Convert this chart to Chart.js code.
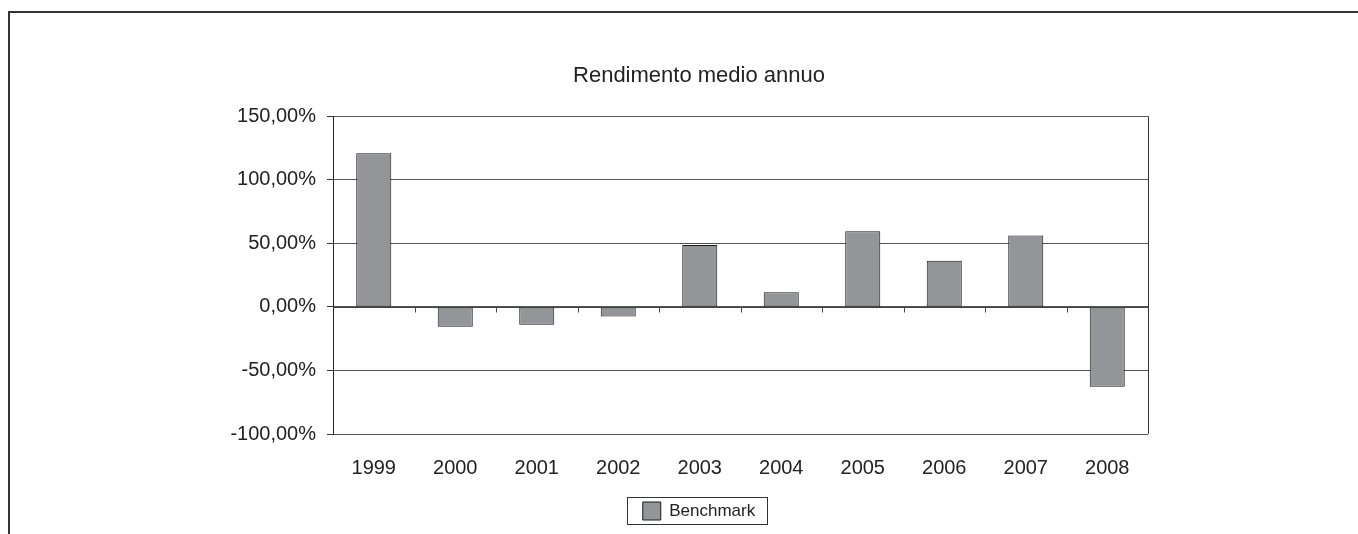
<!DOCTYPE html>
<html>
<head>
<meta charset="utf-8">
<script src="https://cdn.jsdelivr.net/npm/chart.js@4"></script>
<style>
  html, body { margin: 0; padding: 0; background: #fff; }
  #wrap { width: 1358px; height: 534px; }
</style>
</head>
<body>
<div id="wrap"><canvas id="rendChart" width="1358" height="534"></canvas></div>
<script>
const years = ["1999", "2000", "2001", "2002", "2003", "2004", "2005", "2006", "2007", "2008"];
const benchmark = [121.0, -15.5, -14.0, -7.6, 48.7, 11.6, 59.5, 36.3, 56.3, -62.9];
const yTicks = [-100, -50, 0, 50, 100, 150];

const fontFamily = "Arial, 'Liberation Sans', sans-serif";
const textColor = "#222";

function fmtPct(v) {
  return v.toFixed(2).replace(".", ",") + "%";
}

// outer frame, plot border, zero line with its ticks, legend box
const framePlugin = {
  id: "frame",
  beforeDraw(chart) {
    const ctx = chart.ctx;
    ctx.save();
    ctx.fillStyle = "#fff";
    ctx.fillRect(0, 0, chart.width, chart.height);
    ctx.strokeStyle = "#333";
    ctx.lineWidth = 2;
    ctx.strokeRect(9, 12, chart.width + 20, chart.height + 20);
    ctx.restore();
  },
  afterDatasetsDraw(chart) {
    const ctx = chart.ctx;
    const area = chart.chartArea;
    const xs = chart.scales.x;
    const ys = chart.scales.y;
    ctx.save();
    ctx.strokeStyle = "#333";
    ctx.lineWidth = 1;
    ctx.beginPath();
    ctx.moveTo(Math.round(area.right) + 0.5, area.top);
    ctx.lineTo(Math.round(area.right) + 0.5, area.bottom);
    ctx.stroke();

    const y0 = Math.round(ys.getPixelForValue(0)) + 0.5;
    ctx.strokeStyle = "#444";
    ctx.beginPath();
    ctx.moveTo(area.left, y0);
    ctx.lineTo(area.right, y0);
    const step = xs.getPixelForValue(1) - xs.getPixelForValue(0);
    for (let i = 1; i < years.length; i++) {
      const bx = Math.round(xs.getPixelForValue(i) - step / 2) + 0.5;
      ctx.moveTo(bx, y0);
      ctx.lineTo(bx, y0 + 5);
    }
    ctx.stroke();
    ctx.restore();
  },
  afterDraw(chart) {
    const hb = chart.legend && chart.legend.legendHitBoxes && chart.legend.legendHitBoxes[0];
    if (!hb) return;
    const ctx = chart.ctx;
    ctx.save();
    ctx.strokeStyle = "#333";
    ctx.lineWidth = 1;
    ctx.strokeRect(Math.round(hb.left - 16) + 0.5, Math.round(hb.top - 5) + 0.5,
      Math.round(hb.width + 28), Math.round(hb.height + 9));
    ctx.restore();
  }
};

const ctx = document.getElementById("rendChart").getContext("2d");
const chart = new Chart(ctx, {
  type: "bar",
  data: {
    labels: years,
    datasets: [{
      label: "Benchmark",
      data: benchmark,
      backgroundColor: "#939598",
      borderColor: "#1a1a1a",
      borderWidth: 1,
      borderSkipped: false,
      categoryPercentage: 1,
      barPercentage: 0.43
    }]
  },
  options: {
    responsive: false,
    maintainAspectRatio: false,
    animation: false,
    layout: { padding: { left: 190, right: 150, top: 0, bottom: 4 } },
    plugins: {
      title: {
        display: true,
        text: "Rendimento medio annuo",
        color: textColor,
        font: { family: fontFamily, size: 22, weight: "normal" },
        padding: { top: 63, bottom: 27 }
      },
      legend: {
        position: "bottom",
        labels: {
          color: textColor,
          font: { family: fontFamily, size: 17 },
          boxWidth: 18,
          boxHeight: 18,
          padding: 10
        }
      },
      tooltip: { enabled: false }
    },
    scales: {
      x: {
        grid: { display: false, drawTicks: false },
        border: { display: false },
        ticks: {
          color: textColor,
          font: { family: fontFamily, size: 20 },
          padding: 22,
          maxRotation: 0
        },
        afterFit: (s) => { s.height = 58; }
      },
      y: {
        min: -100,
        max: 150,
        afterBuildTicks: (s) => { s.ticks = yTicks.map(v => ({ value: v })); },
        grid: { color: "#555", lineWidth: 1, drawTicks: true, tickLength: 6, tickColor: "#333" },
        border: { color: "#222", width: 1 },
        ticks: {
          color: textColor,
          font: { family: fontFamily, size: 20 },
          padding: 11,
          callback: (v) => fmtPct(v)
        },
        afterFit: (s) => { s.width = 143; }
      },
      // empty spacer on the right so the title and legend sit where they do in the original
      yRight: {
        position: "right",
        min: -100,
        max: 150,
        grid: { display: false, drawTicks: false },
        border: { display: false },
        ticks: { display: false },
        afterFit: (s) => { s.width = 60; }
      }
    }
  },
  plugins: [framePlugin]
});
</script>
</body>
</html>
